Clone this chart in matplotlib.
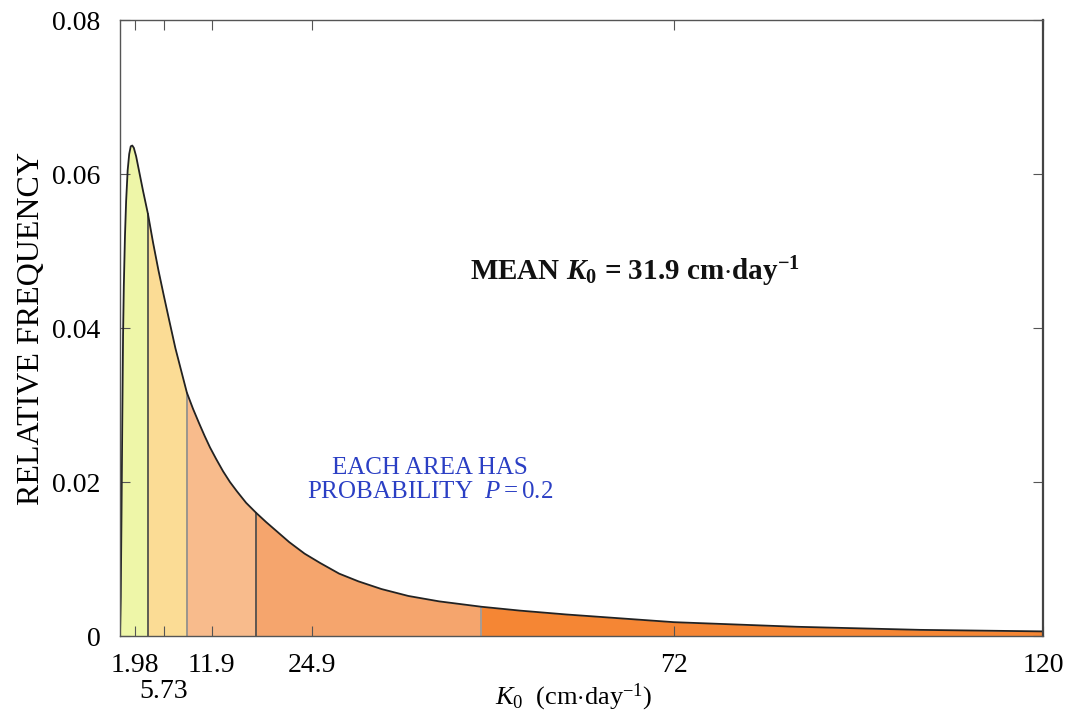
import numpy as np
import matplotlib
matplotlib.use('Agg')
import matplotlib.pyplot as plt

# curve: K0 (cm/day) vs relative frequency
k0 = [0.0, 0.1, 0.2, 0.3, 0.4, 0.5, 0.65, 0.8, 1.0, 1.2, 1.4, 1.6, 1.8, 2.1,
      2.5, 3.0, 3.64, 4.3, 5.0, 5.7, 6.4, 7.2, 8.0, 8.7, 9.5, 10.3, 11.0, 11.7,
      12.5, 13.4, 14.3, 15.2, 16.4, 17.7, 19.0, 20.5, 22.0, 24.0, 26.0, 28.5,
      31.0, 34.0, 37.5, 41.5, 47.0, 52.0, 58.0, 65.0, 72.0, 80.0, 88.0, 96.0,
      104.0, 112.0, 120.0]
freq = [0.0, 0.005, 0.016, 0.028, 0.039, 0.0455, 0.052, 0.0565, 0.0605, 0.0626,
        0.0636, 0.0637, 0.0634, 0.0623, 0.0603, 0.0578, 0.0548, 0.0511, 0.0475,
        0.0442, 0.0410, 0.0374, 0.0343, 0.0316, 0.0295, 0.0276, 0.0260, 0.0245,
        0.0230, 0.0214, 0.0200, 0.0188, 0.0173, 0.0160, 0.0148, 0.0135, 0.0122,
        0.0107, 0.0095, 0.0081, 0.0071, 0.0061, 0.0052, 0.0045, 0.0038, 0.0033,
        0.0028, 0.0023, 0.0018, 0.0015, 0.0012, 0.0010, 0.0008, 0.0007, 0.0006]

# quintile boundaries (each area P = 0.2)
bounds = [0.0, 3.64, 8.7, 17.7, 47.0, 120.0]
area_colors = ['#eef6a8', '#fbdc95', '#f8bb8c', '#f5a56d', '#f58634']
divider_colors = ['#444444', '#8a8a8a', '#444444', '#9a9a9a']

xticks = [1.98, 5.73, 11.9, 24.9, 72, 120]
xtick_labels = ['1.98', '5.73', '11.9', '24.9', '72', '120']
yticks = [0, 0.02, 0.04, 0.06, 0.08]
ytick_labels = ['0', '0.02', '0.04', '0.06', '0.08']

plt.rcParams['font.family'] = 'Liberation Serif'
plt.rcParams['mathtext.fontset'] = 'custom'
plt.rcParams['mathtext.rm'] = 'Liberation Serif'
plt.rcParams['mathtext.it'] = 'Liberation Serif:italic'
plt.rcParams['mathtext.bf'] = 'Liberation Serif:bold'
plt.rcParams['mathtext.bfit'] = 'Liberation Serif:bold:italic'

fig = plt.figure(figsize=(10.78, 7.23), dpi=100)
ax = fig.add_axes([0.1113, 0.1203, 0.8562, 0.852])

x = np.array(k0)
y = np.array(freq)

# shaded areas
for i in range(5):
    m = (x >= bounds[i]) & (x <= bounds[i + 1])
    ax.fill_between(x[m], 0, y[m], color=area_colors[i], lw=0)

# dividers
for b, c in zip(bounds[1:-1], divider_colors):
    ax.plot([b, b], [0, y[k0.index(b)]], color=c, lw=1.2)

ax.plot(x, y, color='#222222', lw=1.3)

ax.set_xlim(0, 120)
ax.set_ylim(0, 0.08)
ax.set_xticks(xticks)
ax.set_xticklabels(xtick_labels)
ax.set_yticks(yticks)
ax.set_yticklabels(ytick_labels)
ax.tick_params(axis='both', direction='in', labelsize=20, length=7, color='#555555')
ax.tick_params(axis='x', top=True, pad=12)
ax.tick_params(axis='y', right=True, pad=14)
# 5.73 sits on a second row under 1.98
ax.xaxis.get_major_ticks()[1].set_pad(31)
for s in ax.spines.values():
    s.set_color('#555555')
    s.set_linewidth(1.0)
ax.spines['right'].set_color('#444444')
ax.spines['right'].set_linewidth(1.6)

ax.set_ylabel('RELATIVE FREQUENCY', fontsize=23)
ax.yaxis.set_label_coords(-0.08, 0.5)
ax.set_xlabel(r'$K_0$  (cm$\cdot$day$^{-1}$)', fontsize=19)
ax.xaxis.set_label_coords(0.492, -0.074)

ax.text(45.5, 0.0473, r'MEAN $\mathbfit{K}_\mathbf{0}$ = 31.9 cm$\mathbf{\cdot}$day$^\mathbf{-1}$',
        fontsize=21, fontweight='bold', va='center', ha='left', color='#111111')
ax.text(40.3, 0.0203, 'EACH AREA HAS\nPROBABILITY  $P = 0.2$', fontsize=18,
        color='#2b3fc4', ha='center', va='center', multialignment='center',
        linespacing=1.1)

fig.savefig('out.png', dpi=100)
